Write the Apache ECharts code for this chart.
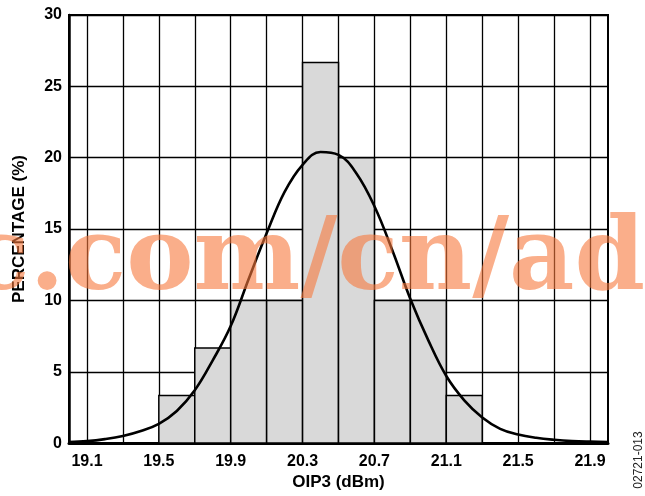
<!DOCTYPE html>
<html>
<head>
<meta charset="utf-8">
<script src="https://cdn.jsdelivr.net/npm/echarts@6/dist/echarts.min.js"></script>
<style>
  html, body { margin: 0; padding: 0; background: #fff; }
  #chart { width: 645px; height: 496px; }
</style>
</head>
<body>
<div id="chart"></div>
<script>
// Histogram bins of OIP3 (dBm): bin edges and percentage of units per bin
const binEdges = [19.5, 19.7, 19.9, 20.1, 20.3, 20.5, 20.7, 20.9, 21.1, 21.3];
const binPercent = [3.33, 6.67, 10, 10, 26.67, 20, 10, 10, 3.33];

// Fitted distribution curve, sampled every 0.1 dBm
const curveX = [19.0, 19.1, 19.2, 19.3, 19.4, 19.5, 19.6, 19.7, 19.8, 19.9,
                20.0, 20.1, 20.2, 20.3, 20.4, 20.5, 20.6, 20.7, 20.8, 20.9,
                21.0, 21.1, 21.2, 21.3, 21.4, 21.5, 21.6, 21.7, 21.8, 21.9, 22.0];
const curveY = [0.08, 0.14, 0.28, 0.5, 0.85, 1.35, 2.25, 3.7, 5.8, 8.2,
                11.5, 14.7, 17.6, 19.5, 20.4, 20.2, 18.9, 16.6, 13.5, 10.1,
                7.2, 4.7, 3.0, 1.8, 1.0, 0.6, 0.37, 0.23, 0.14, 0.1, 0.08];

// Axis ticks
const xGridValues = [19.1, 19.3, 19.5, 19.7, 19.9, 20.1, 20.3, 20.5, 20.7, 20.9,
                     21.1, 21.3, 21.5, 21.7, 21.9];
const xLabelValues = [19.1, 19.5, 19.9, 20.3, 20.7, 21.1, 21.5, 21.9];

const barData = binPercent.map((p, i) => [binEdges[i], binEdges[i + 1], p]);
const curveData = curveX.map((x, i) => [x, curveY[i]]);

const chart = echarts.init(document.getElementById('chart'), null, { renderer: 'canvas' });

const labelFont = {
  fontFamily: '"Liberation Sans", Arial, sans-serif',
  fontWeight: 'bold',
  color: '#000'
};

chart.setOption({
  animation: false,
  backgroundColor: '#fff',
  grid: {
    left: 69, top: 15, right: 37, bottom: 52,
    show: true, borderColor: '#000', borderWidth: 2, backgroundColor: 'transparent'
  },
  xAxis: {
    type: 'value',
    min: 19.0,
    max: 22.0,
    name: 'OIP3 (dBm)',
    nameLocation: 'middle',
    nameGap: 30,
    nameTextStyle: Object.assign({ fontSize: 17 }, labelFont),
    axisLine: { show: true, onZero: false, lineStyle: { color: '#000', width: 3 } },
    axisTick: { show: false, customValues: xGridValues },
    splitLine: { show: true, lineStyle: { color: '#000', width: 1.3 } },
    axisLabel: Object.assign({
      fontSize: 16, margin: 10, customValues: xLabelValues,
      formatter: v => v.toFixed(1)
    }, labelFont)
  },
  yAxis: {
    type: 'value',
    min: 0,
    max: 30,
    interval: 5,
    name: 'PERCENTAGE (%)',
    nameLocation: 'middle',
    nameGap: 41,
    nameRotate: 90,
    nameTextStyle: Object.assign({ fontSize: 17 }, labelFont),
    axisLine: { show: true, lineStyle: { color: '#000', width: 2.5 } },
    axisTick: { show: false },
    splitLine: { show: true, lineStyle: { color: '#000', width: 1.3 } },
    axisLabel: Object.assign({ fontSize: 16, margin: 7 }, labelFont)
  },
  series: [
    {
      type: 'custom',
      name: 'histogram',
      data: barData,
      encode: { x: [0, 1], y: 2 },
      z: 2,
      renderItem: function (params, api) {
        const p0 = api.coord([api.value(0), 0]);
        const p1 = api.coord([api.value(1), api.value(2)]);
        return {
          type: 'rect',
          shape: { x: p0[0], y: p1[1], width: p1[0] - p0[0], height: p0[1] - p1[1] },
          style: { fill: '#d9d9d9', stroke: '#000', lineWidth: 1.5 }
        };
      }
    },
    {
      type: 'line',
      name: 'fit',
      data: curveData,
      smooth: 0.4,
      symbol: 'none',
      z: 3,
      lineStyle: { color: '#000', width: 2.6 }
    }
  ],
  graphic: [
    {
      type: 'text',
      z: 100,
      x: -32,
      y: 263,
      style: {
        text: 'c.com/cn/ad',
        fontFamily: '"DejaVu Serif", serif',
        fontWeight: 'bold',
        fontSize: 101,
        fill: 'rgba(247, 120, 60, 0.6)',
        align: 'left',
        verticalAlign: 'middle'
      }
    },
    {
      type: 'text',
      x: 639,
      y: 460,
      rotation: Math.PI / 2,
      style: {
        text: '02721-013',
        fontFamily: '"Liberation Sans", Arial, sans-serif',
        fontSize: 12,
        fill: '#222',
        align: 'center',
        verticalAlign: 'middle'
      }
    }
  ]
});
</script>
</body>
</html>
